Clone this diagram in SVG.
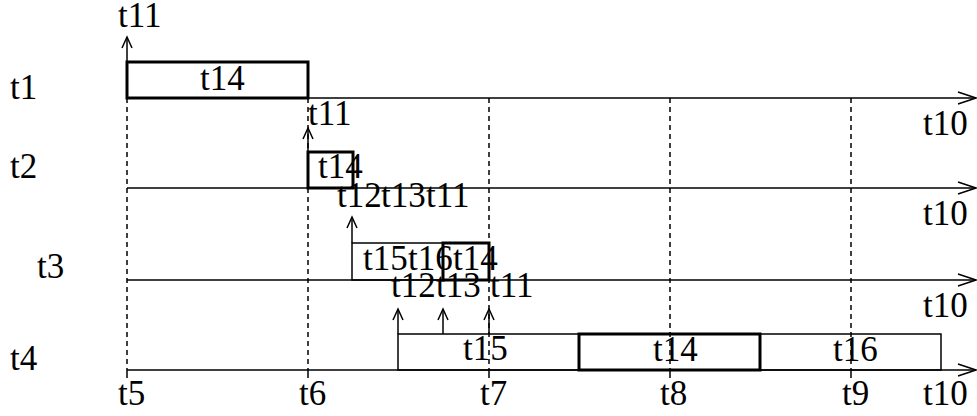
<svg xmlns="http://www.w3.org/2000/svg" width="977" height="416" viewBox="0 0 977 416">
<defs>
<style>
text{font-family:"Liberation Serif","Times New Roman",serif;font-size:35px;fill:#000}
.ax{stroke:#000;stroke-width:1.5;fill:none}
.dash{stroke:#000;stroke-width:1.5;stroke-dasharray:5 4;fill:none}
.tick{stroke:#000;stroke-width:1.5;fill:none}
.thick{stroke:#000;stroke-width:3;fill:none}
.thin{stroke:#000;stroke-width:1.5;fill:none}
</style>
<marker id="vh" viewBox="-13 -7 15 14" refX="0" refY="0" markerWidth="15" markerHeight="14" markerUnits="userSpaceOnUse" orient="auto" overflow="visible">
<path d="M-11,-5 L0,0 L-11,5" fill="none" stroke="#000" stroke-width="1.5"/>
</marker>
<marker id="ah" viewBox="-20 -8 22 16" refX="0" refY="0" markerWidth="22" markerHeight="16" markerUnits="userSpaceOnUse" orient="auto" overflow="visible">
<path d="M-18,-6 L0,0 L-18,6" fill="none" stroke="#000" stroke-width="1.5"/>
</marker>
</defs>
<rect width="977" height="416" fill="#fff"/>

<g id="grid">
<line class="dash" x1="127" y1="98" x2="127" y2="370"/>
<line class="dash" x1="308" y1="98" x2="308" y2="370"/>
<line class="dash" x1="489" y1="98" x2="489" y2="370"/>
<line class="dash" x1="670" y1="98" x2="670" y2="370"/>
<line class="dash" x1="851" y1="98" x2="851" y2="370"/>
<line class="tick" x1="127" y1="370" x2="127" y2="378"/>
<line class="tick" x1="308" y1="370" x2="308" y2="378"/>
<line class="tick" x1="489" y1="370" x2="489" y2="378"/>
<line class="tick" x1="670" y1="370" x2="670" y2="378"/>
<line class="tick" x1="851" y1="370" x2="851" y2="378"/>
</g>

<g id="connectors">
<line class="ax" x1="127" y1="98" x2="976" y2="98" marker-end="url(#ah)"/>
<line class="ax" x1="127" y1="188" x2="976" y2="188" marker-end="url(#ah)"/>
<line class="ax" x1="127" y1="280" x2="976" y2="280" marker-end="url(#ah)"/>
<line class="ax" x1="127" y1="370" x2="976" y2="370" marker-end="url(#ah)"/>
<line class="ax" x1="127" y1="62" x2="127" y2="37" marker-end="url(#vh)"/>
<line class="ax" x1="308" y1="152" x2="308" y2="128" marker-end="url(#vh)"/>
<line class="ax" x1="352" y1="243" x2="352" y2="217" marker-end="url(#vh)"/>
<line class="ax" x1="398" y1="334" x2="398" y2="309" marker-end="url(#vh)"/>
<line class="ax" x1="443" y1="334" x2="443" y2="309" marker-end="url(#vh)"/>
<line class="ax" x1="489" y1="334" x2="489" y2="309" marker-end="url(#vh)"/>
</g>

<g id="row-t1">
<text x="10" y="99">t1</text>
<rect class="thick" x="127" y="62" width="181" height="36"/>
<text x="200" y="90">t14</text>
<text x="118" y="27">t11</text>
<text x="923" y="135">t10</text>
</g>

<g id="row-t2">
<text x="10" y="178">t2</text>
<rect class="thick" x="308" y="152" width="45" height="36"/>
<text x="318" y="178">t14</text>
<text x="308" y="125">t11</text>
<text x="923" y="225">t10</text>
</g>

<g id="row-t3">
<text x="37" y="278">t3</text>
<rect class="thin" x="352" y="243" width="137" height="37"/>
<rect class="thick" x="443" y="243" width="46" height="37"/>
<text x="363" y="270">t15</text>
<text x="408" y="270">t16</text>
<text x="453" y="270">t14</text>
<text x="337" y="207">t12</text>
<text x="381" y="207">t13</text>
<text x="426" y="207">t11</text>
<text x="923" y="317">t10</text>
</g>

<g id="row-t4">
<text x="10" y="370">t4</text>
<rect class="thin" x="398" y="334" width="543" height="36"/>
<rect class="thick" x="579" y="334" width="181" height="36"/>
<text x="463" y="360">t15</text>
<text x="653" y="361">t14</text>
<text x="833" y="361">t16</text>
<text x="391" y="297">t12</text>
<text x="436" y="297">t13</text>
<text x="490" y="297">t11</text>
</g>

<g id="time-axis">
<text x="118" y="405">t5</text>
<text x="299" y="405">t6</text>
<text x="480" y="405">t7</text>
<text x="660" y="405">t8</text>
<text x="842" y="405">t9</text>
<text x="923" y="405">t10</text>
</g>
</svg>
